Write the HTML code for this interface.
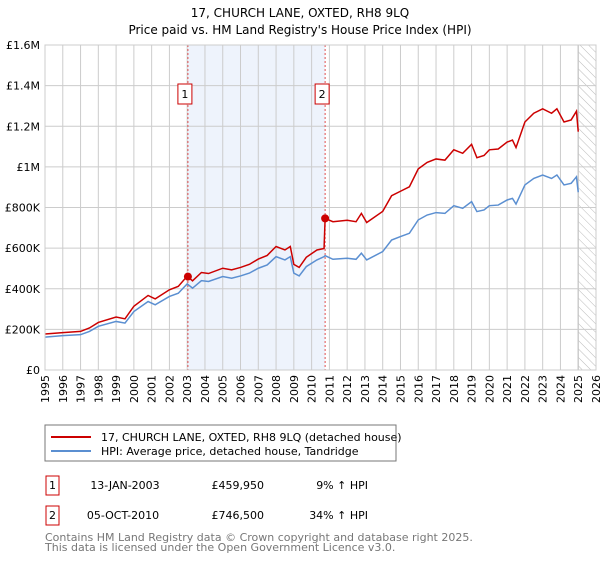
<!DOCTYPE html>
<html><head><meta charset="utf-8"><style>
body{margin:0;background:#fff;font-family:"Liberation Sans","DejaVu Sans",sans-serif}
svg text{font-family:"DejaVu Sans","Liberation Sans",sans-serif}
</style></head><body>
<svg id="c" width="600" height="560" xmlns="http://www.w3.org/2000/svg">
<defs><pattern id="hatch" width="6" height="6" patternUnits="userSpaceOnUse" patternTransform="rotate(-45)"><line x1="0" y1="0" x2="0" y2="6" stroke="#bbb" stroke-width="1"/></pattern></defs>
<text x="300" y="17" text-anchor="middle" font-size="12" fill="#000">17, CHURCH LANE, OXTED, RH8 9LQ</text>
<text x="300" y="34" text-anchor="middle" font-size="12" fill="#000">Price paid vs. HM Land Registry's House Price Index (HPI)</text>
<g id="grid"></g><g id="marks"></g>
<rect x="45" y="425" width="351" height="36" fill="#fff" stroke="#777"/>
<line x1="51" y1="437" x2="91" y2="437" stroke="#cc0000" stroke-width="2"/>
<text x="101" y="441" font-size="11">17, CHURCH LANE, OXTED, RH8 9LQ (detached house)</text>
<line x1="51" y1="451" x2="91" y2="451" stroke="#5b8fd1" stroke-width="2"/>
<text x="101" y="455" font-size="11">HPI: Average price, detached house, Tandridge</text>
<g font-size="11">
<rect x="46" y="476" width="13" height="19" fill="none" stroke="#cc0000"/><text x="52.5" y="489" text-anchor="middle">1</text>
<text x="125" y="489" text-anchor="middle">13-JAN-2003</text><text x="264" y="489" text-anchor="end">£459,950</text><text x="368" y="489" text-anchor="end">9% ↑ HPI</text></g>
<g font-size="11">
<rect x="46" y="506" width="13" height="19" fill="none" stroke="#cc0000"/><text x="52.5" y="519" text-anchor="middle">2</text>
<text x="123" y="519" text-anchor="middle">05-OCT-2010</text><text x="264" y="519" text-anchor="end">£746,500</text><text x="368" y="519" text-anchor="end">34% ↑ HPI</text></g>
<text x="45" y="541" font-size="11" fill="#777">Contains HM Land Registry data © Crown copyright and database right 2025.</text>
<text x="45" y="551" font-size="11" fill="#777">This data is licensed under the Open Government Licence v3.0.</text>
</svg>
<script>
const dates=[1995,1996,1997,1997.5,1998,1999,1999.5,2000,2000.8,2001.2,2002,2002.5,2003,2003.3,2003.8,2004.2,2005,2005.5,2006,2006.5,2007,2007.5,2008,2008.5,2008.8,2009,2009.3,2009.7,2010.3,2010.7,2010.76,2011.2,2012,2012.5,2012.8,2013.1,2014,2014.5,2015,2015.5,2016,2016.5,2017,2017.5,2018,2018.5,2019,2019.3,2019.7,2020,2020.5,2021,2021.3,2021.5,2022,2022.5,2023,2023.5,2023.8,2024.2,2024.6,2024.9,2025];
const hpi=[162,169,174,190,215,239,231,288,337,321,362,378,424,403,440,436,460,452,463,477,501,517,558,542,558,477,463,509,542,558,563,545,550,545,575,542,583,640,657,673,739,763,775,771,809,796,829,780,788,809,812,837,845,817,911,943,960,943,960,911,919,951,875];
const red=[177,184,190,207,234,261,252,314,367,350,395,412,462,439,480,475,501,493,505,520,546,564,608,591,608,520,505,555,591,598,746,730,737,730,771,726,781,858,880,902,990,1022,1039,1033,1084,1067,1111,1045,1056,1084,1088,1122,1132,1095,1221,1264,1286,1264,1286,1221,1231,1274,1173];
const yTicks=[0,200,400,600,800,1000,1200,1400,1600];
const yLabels=["£0","£200K","£400K","£600K","£800K","£1M","£1.2M","£1.4M","£1.6M"];
const xYears=[1995,1996,1997,1998,1999,2000,2001,2002,2003,2004,2005,2006,2007,2008,2009,2010,2011,2012,2013,2014,2015,2016,2017,2018,2019,2020,2021,2022,2023,2024,2025,2026];
const saleDates=[2003.04,2010.76];
const salePrices=[459.95,746.5];
const saleLabels=["1","2"];
const NS="http://www.w3.org/2000/svg";
const X=v=>45+(v-1995)*(551/31), Y=v=>370-v*(325/1600);
function mk(t,a,p){const e=document.createElementNS(NS,t);for(const k in a)e.setAttribute(k,a[k]);p.appendChild(e);return e;}
const g=document.getElementById('grid'),m=document.getElementById('marks');
const sh=mk('rect',{x:X(saleDates[0]),y:45,width:X(saleDates[1])-X(saleDates[0]),height:325,fill:'#eef3fc'},g);


const ht=mk('rect',{x:X(2025),y:45,width:596-X(2025),height:325,fill:'url(#hatch)',stroke:'#999'},g);


yTicks.forEach((v,i)=>{mk('line',{x1:45,x2:596,y1:Y(v),y2:Y(v),stroke:'#ccc'},g);
const t=mk('text',{x:40,y:Y(v)+4,'text-anchor':'end','font-size':11},g);t.textContent=yLabels[i];

});
xYears.forEach(v=>{mk('line',{x1:X(v),x2:X(v),y1:45,y2:370,stroke:'#ccc'},g);
const t=mk('text',{x:0,y:0,'text-anchor':'end','font-size':11,transform:`translate(${X(v)+4},375) rotate(-90)`},g);t.textContent=v;

});
saleDates.forEach(d=>mk('line',{x1:X(d),x2:X(d),y1:45,y2:370,stroke:'#e05050','stroke-dasharray':'2,2'},g));
const pts=a=>a.map((v,i)=>X(dates[i])+','+Y(v)).join(' ');
const hl=mk('polyline',{points:pts(hpi),fill:'none',stroke:'#5b8fd1','stroke-width':1.5},m);


const rl=mk('polyline',{points:pts(red),fill:'none',stroke:'#cc0000','stroke-width':1.5},m);


saleDates.forEach((d,i)=>{const c=mk('circle',{cx:X(d),cy:Y(salePrices[i]),r:4,fill:'#cc0000'},m);


const b=mk('rect',{x:X(d)-10,y:84,width:14,height:20,fill:'#fff',stroke:'#cc0000'},m);


const t=mk('text',{x:X(d)-3,y:98,'text-anchor':'middle','font-size':11},m);t.textContent=saleLabels[i];

});
mk('rect',{x:45,y:45,width:551,height:325,fill:'none',stroke:'#ccc'},m);
</script>
</body></html>
